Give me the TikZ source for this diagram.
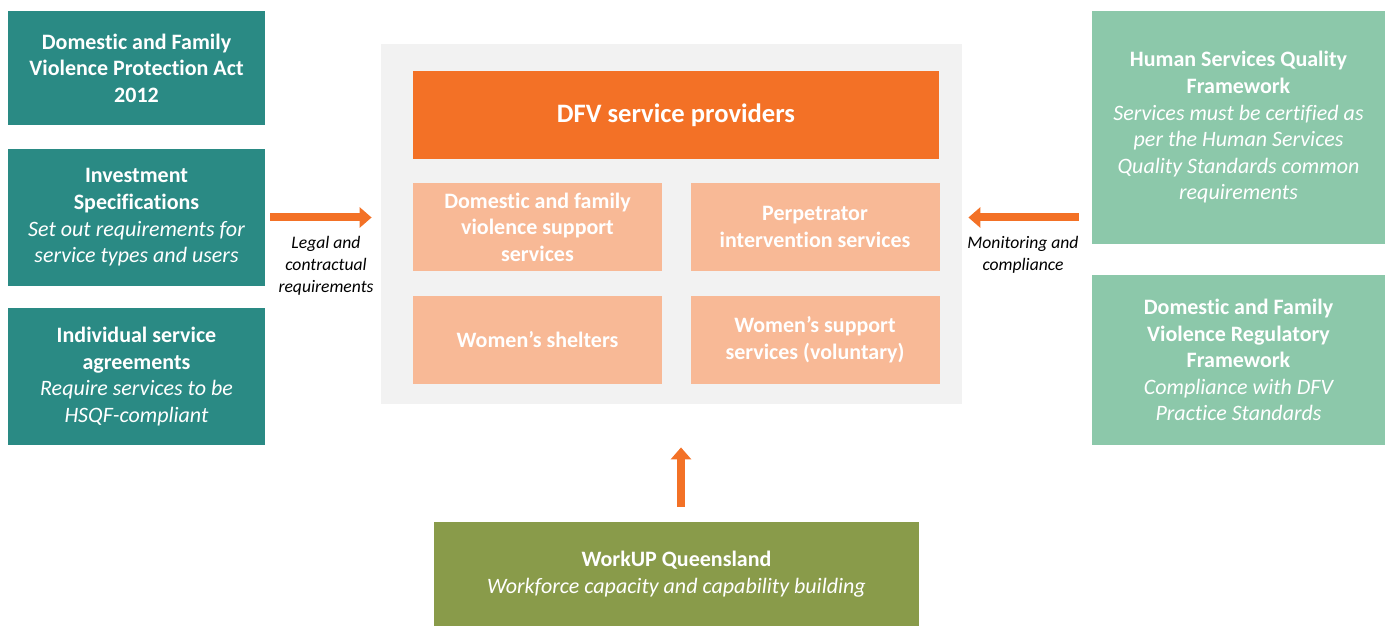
\documentclass[tikz,border=0pt]{standalone}
\usepackage{fontspec}
\setmainfont[Ligatures=NoCommon,Contextuals=NoAlternate]{Carlito}
\usepackage{tikz}
\usetikzlibrary{arrows.meta}
\usetikzlibrary{positioning}
\definecolor{dfvteal}{HTML}{2A8A84}
\definecolor{dfvmint}{HTML}{8CC8AA}
\definecolor{dfvorange}{HTML}{F37126}
\definecolor{dfvpeach}{HTML}{F8B996}
\definecolor{dfvgrey}{HTML}{F2F2F2}
\definecolor{dfvolive}{HTML}{899B4A}
\tikzset{
    block/.style = {rectangle,inner sep=0,align=center,text=white,
        font=\fontsize{11}{13.3}\selectfont\bfseries},
    law/.style = {block,fill=dfvteal,minimum width=128.5pt},
    quality/.style = {block,fill=dfvmint,minimum width=146.5pt},
    service/.style = {block,fill=dfvpeach,minimum width=124.5pt,minimum height=44pt}
}
\tikzset{
    flow/.style = {draw=dfvorange,line width=4pt,-{Triangle[length=6pt,width=10pt]}},
    flowtext/.style = {align=center,font=\fontsize{8.8}{11}\selectfont\itshape}
}
\begin{document}
\begin{tikzpicture}[x=0.5pt,y=-0.5pt]
    \useasboundingbox (0,0) rectangle (1389,626);
    % Legislation and contracts
    \path (136.5,68) node[law,minimum height=57pt] (act)
            {Domestic and Family\\Violence Protection Act\\2012}
        (136.5,217.5) node[law,minimum height=68.5pt] (spec)
            {Investment\\Specifications\\\normalfont\itshape Set out requirements for\\\normalfont\itshape service types and users}
        (136.5,376.5) node[law,minimum height=68.5pt] (isa)
            {Individual service\\agreements\\\normalfont\itshape Require services to be\\\normalfont\itshape HSQF-compliant}
    ;
    % Service providers
    \path (671.5,224) node[fill=dfvgrey,minimum width=290.5pt,minimum height=180pt,inner sep=0] (grey) {};
    \path (676,115) node[block,fill=dfvorange,minimum width=263pt,minimum height=44pt,
            font=\fontsize{13.3}{16}\selectfont\bfseries] (dfv) {DFV service providers}
        (537.5,227) node[service] (dfvs) {Domestic and family\\violence support\\services}
        (815,227) node[service] (pis) {Perpetrator\\intervention services}
        (537.5,340) node[service] (shelter) {Women’s shelters}
        (815,340) node[service] (wss) {Women’s support\\services (voluntary)}
    ;
    % Quality and regulation
    \path (1238.5,127.5) node[quality,minimum height=116.5pt] (hsqf)
            {Human Services Quality\\Framework\\\normalfont\itshape Services must be certified as\\\normalfont\itshape per the Human Services\\\normalfont\itshape Quality Standards common\\\normalfont\itshape requirements}
        (1238.5,360) node[quality,minimum height=85pt] (reg)
            {Domestic and Family\\Violence Regulatory\\Framework\\\normalfont\itshape Compliance with DFV\\\normalfont\itshape Practice Standards}
    ;
    % Workforce
    \path (676.5,574) node[block,fill=dfvolive,minimum width=242.5pt,minimum height=52pt] (wup)
        {WorkUP Queensland\\\normalfont\itshape Workforce capacity and capability building};
    % Flows
    \draw[flow,shorten <=2.5pt,shorten >=4.5pt] (spec.east) to (spec.east -| grey.west);
    \draw[flow,shorten <=6.5pt,shorten >=3pt] (hsqf.west |- spec.east) to (grey.east |- spec.east);
    \draw[flow,shorten <=7.5pt,shorten >=21.5pt] ([xshift=2.25pt]wup.north) to ([xshift=2.25pt]wup.north |- grey.south);
    \path (326,266) node[flowtext] (legal) {Legal and\\contractual\\requirements}
        (1023,255) node[flowtext] (monitor) {Monitoring and\\compliance};
\end{tikzpicture}
\end{document}
